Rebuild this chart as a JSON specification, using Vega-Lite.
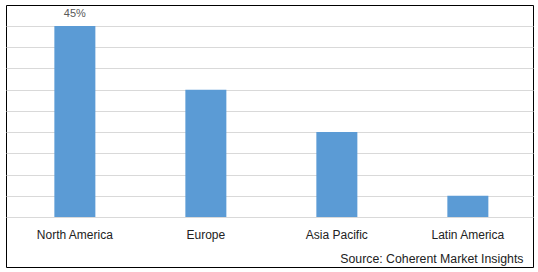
{
  "$schema": "https://vega.github.io/schema/vega-lite/v6.json",
  "autosize": "none",
  "padding": {"left": 6, "top": 5, "right": 5, "bottom": 5},
  "width": 527,
  "height": 262,
  "background": "white",
  "config": {
    "view": {"stroke": "#000000", "strokeWidth": 1},
    "font": "Liberation Sans"
  },
  "data": {
    "values": [
      {"region": "North America", "share": 45, "label": "45%"},
      {"region": "Europe", "share": 30, "label": ""},
      {"region": "Asia Pacific", "share": 20, "label": ""},
      {"region": "Latin America", "share": 5, "label": ""}
    ]
  },
  "encoding": {
    "x": {
      "field": "region",
      "type": "nominal",
      "sort": null,
      "scale": {"paddingInner": 0.687, "paddingOuter": 0.355, "align": 0.52},
      "axis": {
        "orient": "bottom",
        "offset": -50,
        "domain": false,
        "ticks": false,
        "labelAngle": 0,
        "labelPadding": 12,
        "labelFontSize": 12,
        "labelColor": "#222222",
        "title": "Source: Coherent Market Insights",
        "titleFontWeight": "normal",
        "titleFontSize": 12.3,
        "titleColor": "#222222",
        "titleAlign": "right",
        "titleAnchor": "end",
        "titleX": 517,
        "titleY": 41,
        "titleBaseline": "middle"
      }
    },
    "y": {
      "field": "share",
      "type": "quantitative",
      "scale": {"domain": [-11.78, 49.95], "nice": false, "zero": false},
      "axis": {
        "values": [0, 5, 10, 15, 20, 25, 30, 35, 40, 45],
        "labels": false,
        "ticks": false,
        "domain": false,
        "title": null,
        "gridColor": "#d9d9d9",
        "gridWidth": 1
      }
    }
  },
  "layer": [
    {"mark": {"type": "bar", "color": "#5b9bd5"}, "encoding": {"y2": {"datum": 0}}},
    {
      "mark": {"type": "text", "baseline": "bottom", "dy": -7, "fontSize": 11, "color": "#595959"},
      "encoding": {"text": {"field": "label"}}
    }
  ]
}
